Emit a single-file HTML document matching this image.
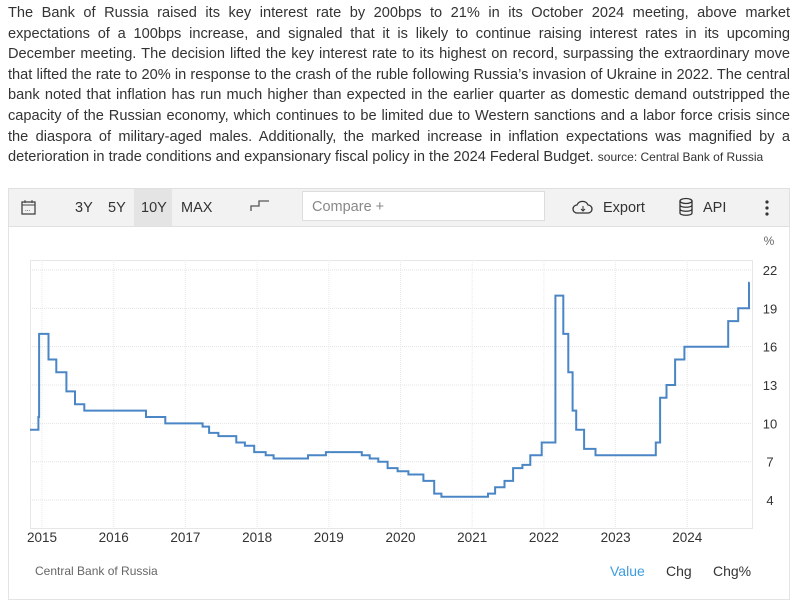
<!DOCTYPE html>
<html><head><meta charset="utf-8"><style>
body{margin:0;width:800px;height:591px;background:#fff;font-family:"Liberation Sans",Arial,sans-serif;overflow:hidden;position:relative}
#txt{position:absolute;left:8px;top:3px;width:782px;font-size:14.6px;line-height:20.6px;color:#333;text-align:justify}
#txt small{font-size:12px}
#panel{position:absolute;left:8px;top:188px;width:780px;height:410px;border:1px solid #e4e4e4}
#tb{position:absolute;left:8px;top:188px;width:780px;height:37px;background:#f2f2f2;border:1px solid #e0e0e0;font-size:14.5px;color:#333}
.t{position:absolute;top:11px}
#cmp{position:absolute;left:293px;top:2px;width:243px;height:30px;background:#fff;border:1px solid #ddd;color:#888;line-height:30px;box-sizing:border-box;padding-left:9px}
</style></head><body>
<div id="txt">The Bank of Russia raised its key interest rate by 200bps to 21% in its October 2024 meeting, above market expectations of a 100bps increase, and signaled that it is likely to continue raising interest rates in its upcoming December meeting. The decision lifted the key interest rate to its highest on record, surpassing the extraordinary move that lifted the rate to 20% in response to the crash of the ruble following Russia’s invasion of Ukraine in 2022. The central bank noted that inflation has run much higher than expected in the earlier quarter as domestic demand outstripped the capacity of the Russian economy, which continues to be limited due to Western sanctions and a labor force crisis since the diaspora of military-aged males. Additionally, the marked increase in inflation expectations was magnified by a deterioration in trade conditions and expansionary fiscal policy in the 2024 Federal Budget. <small>source: Central Bank of Russia</small></div>
<div id="panel"></div>
<div id="tb">
<svg style="position:absolute;left:12px;top:10px" width="16" height="17"><rect x="1" y="3" width="13" height="12" fill="none" stroke="#444" stroke-width="1.3"/><line x1="1" y1="6" x2="14" y2="6" stroke="#444"/><line x1="4" y1="1" x2="4" y2="4" stroke="#444"/><line x1="11" y1="1" x2="11" y2="4" stroke="#444"/><text x="4" y="12" font-size="6">...</text></svg>
<span class="t" style="left:66px">3Y</span><span class="t" style="left:99px">5Y</span>
<div style="position:absolute;left:125px;top:0;width:38px;height:37px;background:#e4e4e4"></div>
<span class="t" style="left:132px">10Y</span><span class="t" style="left:172px">MAX</span>
<svg style="position:absolute;left:240px;top:10px" width="22" height="14"><path d="M2 12V7H10V2H20" fill="none" stroke="#555" stroke-width="1.3"/></svg>
<div id="cmp">Compare +</div>
<svg style="position:absolute;left:563px;top:9px" width="22" height="18"><path d="M5 15a4 4 0 0 1 0-8a6 6 0 0 1 11 0a4 4 0 0 1 0 8z" fill="none" stroke="#333" stroke-width="1.3"/><path d="M11 8v5M9 11l2 2 2-2" stroke="#333" fill="none"/></svg>
<span class="t" style="left:594px">Export</span>
<svg style="position:absolute;left:669px;top:8px" width="16" height="20"><ellipse cx="8" cy="4" rx="6" ry="2.5" fill="none" stroke="#333" stroke-width="1.3"/><path d="M2 4v12c0 3 12 3 12 0V4M2 8c0 3 12 3 12 0M2 12c0 3 12 3 12 0" fill="none" stroke="#333" stroke-width="1.3"/></svg>
<span class="t" style="left:694px">API</span>
<svg style="position:absolute;left:755px;top:11px" width="6" height="16"><circle cx="3" cy="2" r="1.6" fill="#333"/><circle cx="3" cy="8" r="1.6" fill="#333"/><circle cx="3" cy="14" r="1.6" fill="#333"/></svg>
</div>
<svg id="ch" style="position:absolute;left:0;top:0" width="800" height="591"></svg>
<script>
var s='';
function X(y){return 42+(y-2015)*71.7}
function Y(v){return 270+(22-v)*12.78}
s+='<rect x="30.5" y="260.5" width="722" height="268" fill="none" stroke="#e6e6e6"/>';
for(var i=2015;i<=2024;i++){var x=X(i);s+='<line x1="'+x+'" y1="260" x2="'+x+'" y2="528" stroke="#e8e8e8" stroke-dasharray="1,1"/>';s+='<text x="'+x+'" y="542" font-size="13.5" fill="#333" text-anchor="middle">'+i+'</text>';}
[22,19,16,13,10,7,4].forEach(function(v){var y=Y(v);s+='<line x1="30" y1="'+y+'" x2="752" y2="'+y+'" stroke="#e3e3e3" stroke-dasharray="1,1"/>';s+='<text x="770" y="'+(y+5)+'" font-size="13" fill="#333" text-anchor="middle">'+v+'</text>';});
s+='<text x="769" y="245" font-size="12" fill="#666" text-anchor="middle">%</text>';
var d=[[2014.92,9.5],[2014.95,10.5],[2014.96,17],[2015.09,15],[2015.2,14],[2015.34,12.5],[2015.46,11.5],[2015.59,11],[2016.45,10.5],[2016.72,10],[2017.24,9.75],[2017.33,9.25],[2017.46,9],[2017.71,8.5],[2017.83,8.25],[2017.96,7.75],[2018.12,7.5],[2018.23,7.25],[2018.71,7.5],[2018.96,7.75],[2019.46,7.5],[2019.57,7.25],[2019.69,7],[2019.82,6.5],[2019.96,6.25],[2020.11,6],[2020.32,5.5],[2020.47,4.5],[2020.57,4.25],[2021.22,4.5],[2021.32,5],[2021.45,5.5],[2021.57,6.5],[2021.7,6.75],[2021.81,7.5],[2021.97,8.5],[2022.16,20],[2022.27,17],[2022.34,14],[2022.4,11],[2022.45,9.5],[2022.56,8],[2022.72,7.5],[2023.56,8.5],[2023.62,12],[2023.71,13],[2023.83,15],[2023.96,16],[2024.57,18],[2024.71,19],[2024.86,21],[2024.87,21]];
var p='M'+(30)+' '+Y(9.5);
for(var k=1;k<d.length;k++){p+=' H'+X(d[k][0]).toFixed(1)+' V'+Y(d[k][1]).toFixed(1);}
s+='<path d="'+p+'" fill="none" stroke="#4a86c5" stroke-width="2"/>';
s+='<text x="35" y="575" font-size="12" fill="#666">Central Bank of Russia</text>';
s+='<text x="610" y="576" font-size="14" fill="#3d9ce0">Value</text><text x="666" y="576" font-size="14" fill="#333">Chg</text><text x="713" y="576" font-size="14" fill="#333">Chg%</text>';
document.getElementById('ch').innerHTML=s;
</script>
</body></html>
